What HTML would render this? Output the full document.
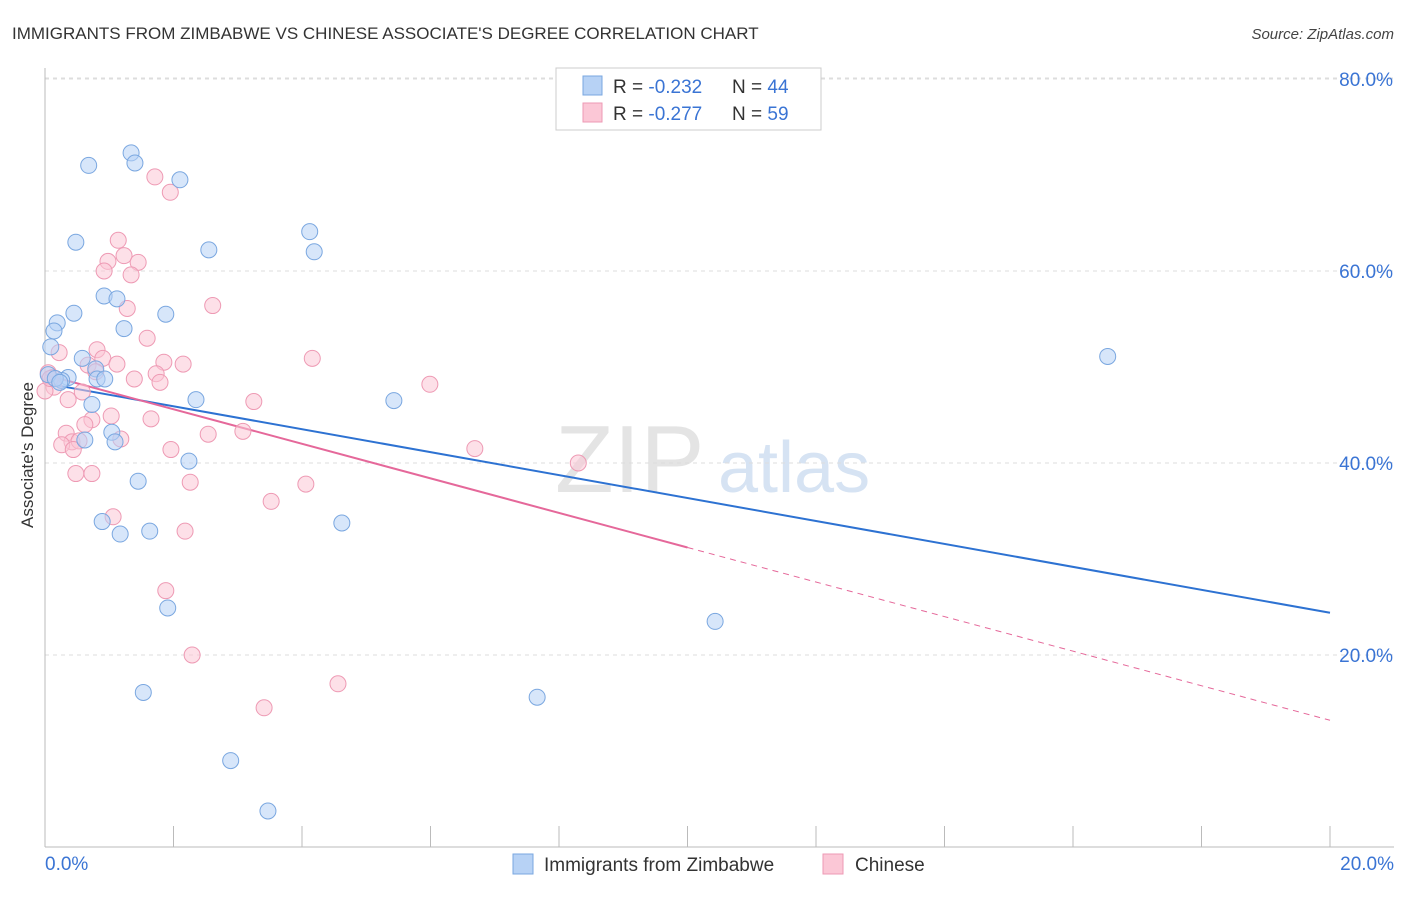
<!DOCTYPE html>
<html><head><meta charset="utf-8">
<style>
body{margin:0;background:#fff;font-family:"Liberation Sans",sans-serif;}
svg text{font-family:"Liberation Sans",sans-serif;}
</style></head>
<body>
<svg id="chart" width="1406" height="892" xmlns="http://www.w3.org/2000/svg">
<text x="12" y="39" font-size="17" fill="#333">IMMIGRANTS FROM ZIMBABWE VS CHINESE ASSOCIATE'S DEGREE CORRELATION CHART</text>
<text x="1394" y="39" font-size="15" fill="#444" text-anchor="end" font-style="italic">Source: ZipAtlas.com</text>
<text x="555" y="492" font-size="96" fill="#e4e4e4" font-family="Liberation Serif">ZIP</text>
<text x="718" y="492" font-size="72" fill="#d6e3f3">atlas</text>
<g id="grid"></g>
<g id="axes"></g>
<g id="lines"></g>
<g id="points"></g>
<text transform="translate(33,455) rotate(-90)" font-size="17" fill="#333" text-anchor="middle">Associate's Degree</text>
<g>
<rect x="556" y="68" width="265" height="62" fill="#fff" stroke="#ccc"/>
<rect x="583" y="76" width="19" height="19" fill="#b7d2f5" stroke="#7aa7e0"/>
<rect x="583" y="103" width="19" height="19" fill="#fbc7d6" stroke="#ee9ab4"/>
<text x="613" y="93" font-size="19" fill="#333">R = <tspan fill="#3a74d4">-0.232</tspan></text>
<text x="732" y="93" font-size="19" fill="#333">N = <tspan fill="#3a74d4">44</tspan></text>
<text x="613" y="120" font-size="19" fill="#333">R = <tspan fill="#3a74d4">-0.277</tspan></text>
<text x="732" y="120" font-size="19" fill="#333">N = <tspan fill="#3a74d4"> 59</tspan></text>
</g>
<g>
<rect x="513" y="854" width="20" height="20" fill="#b7d2f5" stroke="#7aa7e0"/>
<text x="544" y="871" font-size="19" fill="#333">Immigrants from Zimbabwe</text>
<rect x="823" y="854" width="20" height="20" fill="#fbc7d6" stroke="#ee9ab4"/>
<text x="855" y="871" font-size="19" fill="#333">Chinese</text>
</g>
</svg>
<script>
const blueX=[0.68,1.34,1.40,2.10,0.48,2.55,4.12,4.19,0.92,1.12,0.45,1.88,0.19,1.23,0.14,0.09,0.58,0.79,0.36,0.26,0.81,0.93,0.05,2.35,0.73,5.43,16.54,1.04,0.62,1.09,2.24,1.45,0.89,1.17,1.63,4.62,1.91,10.43,1.53,7.66,2.89,3.47,0.16,0.23];
const blueY=[71.0,72.3,71.25,69.5,63.0,62.2,64.1,62.0,57.4,57.1,55.6,55.5,54.6,54.0,53.75,52.1,50.9,49.8,48.9,48.6,48.75,48.75,49.2,46.6,46.1,46.5,51.1,43.2,42.4,42.2,40.2,38.1,33.9,32.6,32.9,33.75,24.9,23.5,16.1,15.6,9.0,3.75,48.8,48.4];
const pinkX=[1.71,1.95,1.14,1.23,0.98,0.92,1.45,1.34,2.61,1.28,1.59,0.22,0.81,0.90,1.85,2.15,1.12,4.16,0.67,0.79,0.05,1.39,1.73,1.79,0.12,0.14,0.58,5.99,0.36,1.65,1.03,0.73,0.62,2.54,3.08,0.33,1.18,0.42,0.53,0.26,0.44,1.96,6.69,8.30,0.48,0.73,2.26,4.06,3.52,1.06,2.18,1.88,2.29,4.56,3.41,3.25,0.0,0.08];
const pinkY=[69.8,68.2,63.2,61.6,61.0,60.0,60.9,59.6,56.4,56.1,53.0,51.5,51.8,50.9,50.5,50.3,50.3,50.9,50.2,49.5,49.4,48.75,49.3,48.4,48.9,47.9,47.4,48.2,46.6,44.6,44.9,44.5,44.0,43.0,43.3,43.1,42.5,42.2,42.3,41.9,41.4,41.4,41.5,40.0,38.9,38.9,38.0,37.8,36.0,34.4,32.9,26.7,20.0,17.0,14.5,46.4,47.5,48.8];
const yTicks=[20,40,60,80];
const yTickLabels=["20.0%","40.0%","60.0%","80.0%"];
const xTicks=[0,2,4,6,8,10,12,14,16,18,20];
const blueTrend=[48.3,24.4];
const pinkTrend=[49.2,13.2];
const pinkSolidEnd=10;
const NS="http://www.w3.org/2000/svg";
const xs=v=>45+v*64.25, ys=v=>847-v*9.6;
function mk(tag,attrs,parent){const e=document.createElementNS(NS,tag);for(const k in attrs)e.setAttribute(k,attrs[k]);parent.appendChild(e);return e;}
const gridG=document.getElementById('grid'),axesG=document.getElementById('axes'),linesG=document.getElementById('lines'),ptsG=document.getElementById('points');
yTicks.forEach((t,i)=>{
 const l=mk('line',{x1:45,x2:1394,y1:ys(t),y2:ys(t),stroke:'#ddd','stroke-dasharray':'4,4'},gridG);
 
 
 const tx=mk('text',{x:1393,y:ys(t)+7,'font-size':19,fill:'#3a74d4','text-anchor':'end'},axesG);
 tx.textContent=yTickLabels[i];
 
 
});
const topGrid=mk('line',{x1:45,x2:1394,y1:78,y2:78,stroke:'#ddd','stroke-dasharray':'4,4'},gridG);


const ya=mk('line',{x1:45,x2:45,y1:68,y2:847,stroke:'#bbb'},axesG);


const xa=mk('line',{x1:45,x2:1394,y1:847,y2:847,stroke:'#bbb'},axesG);


xTicks.forEach(t=>{
 const l=mk('line',{x1:xs(t),x2:xs(t),y1:826,y2:847,stroke:'#bbb'},axesG);
 
 
});
[[0,'0.0%','start',45],[20,'20.0%','end',1394]].forEach(a=>{
 const tx=mk('text',{x:a[3],y:870,'font-size':19,fill:'#3a74d4','text-anchor':a[2]},axesG);
 tx.textContent=a[1];
 
 
});
function circ(x,y,fill,stroke,name){
 const c=mk('circle',{cx:xs(x),cy:ys(y),r:8,fill:fill,'fill-opacity':0.55,stroke:stroke,'stroke-width':1},ptsG);
 
 
}
pinkX.forEach((x,i)=>circ(x,pinkY[i],'#fbc7d6','#ee9ab4','chinese-point'));
blueX.forEach((x,i)=>circ(x,blueY[i],'#b7d2f5','#7aa7e0','zimbabwe-point'));
const pAt=x=>pinkTrend[0]+(pinkTrend[1]-pinkTrend[0])*x/20;
const bl=mk('line',{x1:xs(0),y1:ys(blueTrend[0]),x2:xs(20),y2:ys(blueTrend[1]),stroke:'#2d72d2','stroke-width':2},linesG);


const pl=mk('line',{x1:xs(0),y1:ys(pinkTrend[0]),x2:xs(pinkSolidEnd),y2:ys(pAt(pinkSolidEnd)),stroke:'#e5689a','stroke-width':2},linesG);


const pd=mk('line',{x1:xs(pinkSolidEnd),y1:ys(pAt(pinkSolidEnd)),x2:xs(20),y2:ys(pinkTrend[1]),stroke:'#e5689a','stroke-width':1,'stroke-dasharray':'6,5'},linesG);


</script>
</body></html>
